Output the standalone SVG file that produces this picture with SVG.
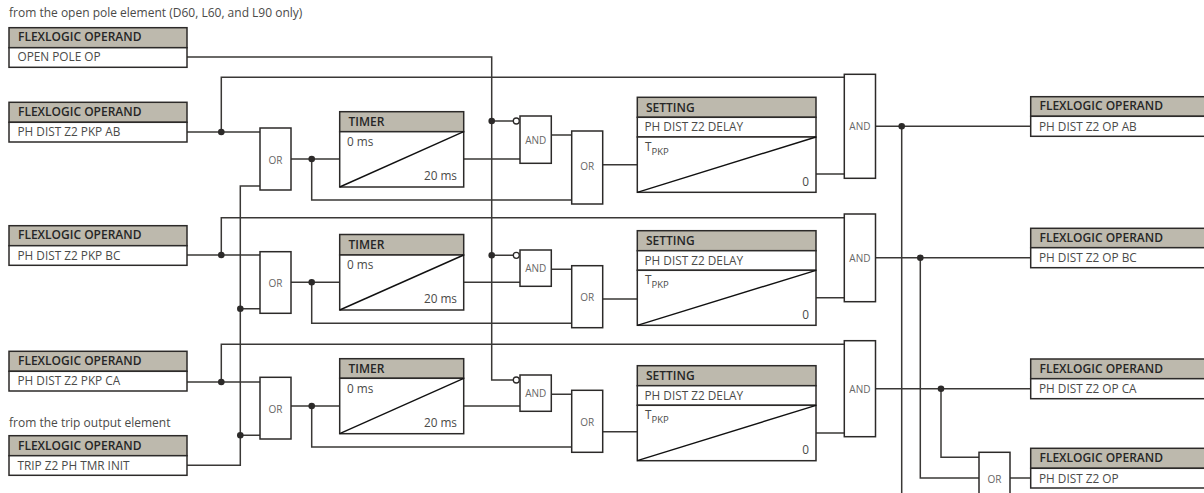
<svg xmlns="http://www.w3.org/2000/svg" width="1204" height="493" viewBox="0 0 1204 493">
<style>
text{font-family:"Open Sans","Noto Sans","Liberation Sans",sans-serif;font-size:11.8px;fill:#4a4a48}
.h{font-weight:600;font-size:12px;fill:#262626}
.t{font-size:12px}
.g{fill:#666;text-anchor:middle;font-size:10px}
.e{text-anchor:end}
.s{font-size:9.5px}
.b{fill:#fff;stroke:#2c2a29;stroke-width:1.5}
.f{fill:#bdb9ad;stroke:#2c2a29;stroke-width:1.5}
.d{fill:none;stroke:#111;stroke-width:1.4}
.c{fill:none;stroke:#3a3836;stroke-width:1.5}
.j{fill:#2c2a29}
.n{fill:#fff;stroke:#2c2a29;stroke-width:1.3}
</style>
<rect width="1204" height="493" fill="#fff"/>
<text class="t" x="9" y="17">from the open pole element (D60, L60, and L90 only)</text>
<text class="t" x="9" y="426.5">from the trip output element</text>
<g id="connectors">
<path class="c" d="M187 57H491.7V380H513"/>
<path class="c" d="M491.7 121H513M491.7 255.3H513"/>
<path class="c" d="M187 132H260M221.3 132V77.3H844.3"/>
<path class="c" d="M187 255H260M221.3 255V217.7H844.3"/>
<path class="c" d="M187 382H260M221.3 382V344.3H844.3"/>
<path class="c" d="M187 465.3H240.3V186H260M240.3 308.7H260M240.3 435.3H260"/>
<path class="c" d="M291 159H339.7M311.7 159V200H571.7"/>
<path class="c" d="M291 282.3H339.7M311.7 282.3V323.3H571.7"/>
<path class="c" d="M291 406H339.7M311.7 406V447H571.7"/>
<path class="c" d="M463.7 159H520M463.7 282.3H520M463.7 406H520"/>
<path class="c" d="M551.3 135H571.7M551.3 269.3H571.7M551.3 394.3H571.7"/>
<path class="c" d="M602.7 164.7H637.3M602.7 299H637.3M602.7 431.7H637.3"/>
<path class="c" d="M816 174H844.3M816 297.7H844.3M816 433H844.3"/>
<path class="c" d="M875.5 126.3H1030.7M875.5 257.7H1030.7M875.5 388.7H1030.7"/>
<path class="c" d="M901.7 126.3V493"/>
<path class="c" d="M920.3 257.7V478H979"/>
<path class="c" d="M941 388.7V457.3H979"/>
<path class="c" d="M1010 478H1030.7"/>
<g class="j">
<circle cx="221.3" cy="132" r="3.3"/><circle cx="221.3" cy="255" r="3.3"/><circle cx="221.3" cy="382" r="3.3"/>
<circle cx="240.3" cy="308.7" r="3.3"/><circle cx="240.3" cy="435.3" r="3.3"/>
<circle cx="311.7" cy="159" r="3.3"/><circle cx="311.7" cy="282.3" r="3.3"/><circle cx="311.7" cy="406" r="3.3"/>
<circle cx="491.7" cy="121" r="3.3"/><circle cx="491.7" cy="255.3" r="3.3"/>
<circle cx="901.7" cy="126.3" r="3.3"/><circle cx="920.3" cy="257.7" r="3.3"/><circle cx="941" cy="388.7" r="3.3"/>
</g>
</g>
<g id="op-open-pole"><rect class="f" x="9" y="27.7" width="178" height="20"/><rect class="b" x="9" y="47.7" width="178" height="19.6"/><text class="h" x="18" y="41">FLEXLOGIC OPERAND</text><text x="17.5" y="61">OPEN POLE OP</text></g>
<g id="op-pkp-ab"><rect class="f" x="9" y="102.3" width="178" height="20"/><rect class="b" x="9" y="122.3" width="178" height="19.7"/><text class="h" x="18" y="115.5">FLEXLOGIC OPERAND</text><text x="17.5" y="136">PH DIST Z2 PKP AB</text></g>
<g id="op-pkp-bc"><rect class="f" x="9" y="225.7" width="178" height="20"/><rect class="b" x="9" y="245.7" width="178" height="19.6"/><text class="h" x="18" y="239">FLEXLOGIC OPERAND</text><text x="17.5" y="259.5">PH DIST Z2 PKP BC</text></g>
<g id="op-pkp-ca"><rect class="f" x="9" y="351.3" width="178" height="20"/><rect class="b" x="9" y="371.3" width="178" height="19.7"/><text class="h" x="18" y="365">FLEXLOGIC OPERAND</text><text x="17.5" y="385">PH DIST Z2 PKP CA</text></g>
<g id="op-trip"><rect class="f" x="9" y="435.7" width="178" height="20"/><rect class="b" x="9" y="455.7" width="178" height="19.6"/><text class="h" x="18" y="449.5">FLEXLOGIC OPERAND</text><text x="17.5" y="469.5">TRIP Z2 PH TMR INIT</text></g>

<g id="or-1a"><rect class="b" x="260" y="128" width="31" height="62"/><text class="g" x="275.5" y="164">OR</text></g>
<g id="or-2a"><rect class="b" x="260" y="251.7" width="31" height="61.6"/><text class="g" x="275.5" y="287">OR</text></g>
<g id="or-3a"><rect class="b" x="260" y="377.3" width="31" height="61.7"/><text class="g" x="275.5" y="413">OR</text></g>

<g id="timer-1"><rect class="f" x="339.7" y="111.7" width="124" height="20"/><rect class="b" x="339.7" y="131.7" width="124" height="55.3"/><path class="d" d="M339.7 187L463.7 131.7"/><text class="h" x="348.5" y="126">TIMER</text><text x="347" y="146">0 ms</text><text class="e" x="457" y="180">20 ms</text></g>
<g id="timer-2"><rect class="f" x="339.7" y="234.5" width="124" height="20.5"/><rect class="b" x="339.7" y="255" width="124" height="55"/><path class="d" d="M339.7 310L463.7 255"/><text class="h" x="348.5" y="249">TIMER</text><text x="347" y="269">0 ms</text><text class="e" x="457" y="303">20 ms</text></g>
<g id="timer-3"><rect class="f" x="339.7" y="358.7" width="124" height="19.6"/><rect class="b" x="339.7" y="378.3" width="124" height="55.4"/><path class="d" d="M339.7 433.7L463.7 378.3"/><text class="h" x="348.5" y="373">TIMER</text><text x="347" y="392.5">0 ms</text><text class="e" x="457" y="427">20 ms</text></g>

<g id="and-1a"><rect class="b" x="520" y="116" width="31.3" height="47.3"/><circle class="n" cx="516.3" cy="121" r="3"/><text class="g" x="535.7" y="144">AND</text></g>
<g id="and-2a"><rect class="b" x="520" y="250" width="31.3" height="36.3"/><circle class="n" cx="516.3" cy="255.3" r="3"/><text class="g" x="535.7" y="272">AND</text></g>
<g id="and-3a"><rect class="b" x="520" y="375" width="31.3" height="36.3"/><circle class="n" cx="516.3" cy="380" r="3"/><text class="g" x="535.7" y="397">AND</text></g>

<g id="or-1b"><rect class="b" x="571.7" y="131" width="31" height="73"/><text class="g" x="587.2" y="170">OR</text></g>
<g id="or-2b"><rect class="b" x="571.7" y="265.7" width="31" height="62"/><text class="g" x="587.2" y="301">OR</text></g>
<g id="or-3b"><rect class="b" x="571.7" y="390.3" width="31" height="62"/><text class="g" x="587.2" y="426">OR</text></g>

<g id="setting-1"><rect class="f" x="637.3" y="97.3" width="178.7" height="20"/><rect class="b" x="637.3" y="117.3" width="178.7" height="19.7"/><rect class="b" x="637.3" y="137" width="178.7" height="55.3"/><path class="d" d="M637.3 192.3L816 137"/><text class="h" x="646" y="111.5">SETTING</text><text x="644.5" y="131">PH DIST Z2 DELAY</text><text x="645" y="151">T<tspan class="s" dy="3.5">PKP</tspan></text><text class="e" x="809" y="186">0</text></g>
<g id="setting-2"><rect class="f" x="637.3" y="230.7" width="178.7" height="20"/><rect class="b" x="637.3" y="250.7" width="178.7" height="19.6"/><rect class="b" x="637.3" y="270.3" width="178.7" height="55"/><path class="d" d="M637.3 325.3L816 270.3"/><text class="h" x="646" y="245">SETTING</text><text x="644.5" y="264.5">PH DIST Z2 DELAY</text><text x="645" y="284">T<tspan class="s" dy="3.5">PKP</tspan></text><text class="e" x="809" y="319">0</text></g>
<g id="setting-3"><rect class="f" x="637.3" y="365.7" width="178.7" height="20"/><rect class="b" x="637.3" y="385.7" width="178.7" height="19.6"/><rect class="b" x="637.3" y="405.3" width="178.7" height="55.4"/><path class="d" d="M637.3 460.7L816 405.3"/><text class="h" x="646" y="380">SETTING</text><text x="644.5" y="399.5">PH DIST Z2 DELAY</text><text x="645" y="419">T<tspan class="s" dy="3.5">PKP</tspan></text><text class="e" x="809" y="454">0</text></g>

<g id="and-1b"><rect class="b" x="844.3" y="74.3" width="31.2" height="104"/><text class="g" x="859.9" y="130">AND</text></g>
<g id="and-2b"><rect class="b" x="844.3" y="214" width="31.2" height="87.7"/><text class="g" x="859.9" y="262">AND</text></g>
<g id="and-3b"><rect class="b" x="844.3" y="340.7" width="31.2" height="96"/><text class="g" x="859.9" y="393">AND</text></g>

<g id="or-out"><rect class="b" x="979" y="452.3" width="31" height="50"/><text class="g" x="994.5" y="483">OR</text></g>

<g id="op-op-ab"><rect class="f" x="1030.7" y="96.7" width="190" height="19.6"/><rect class="b" x="1030.7" y="116.3" width="190" height="20"/><text class="h" x="1039.5" y="110">FLEXLOGIC OPERAND</text><text x="1039" y="130.5">PH DIST Z2 OP AB</text></g>
<g id="op-op-bc"><rect class="f" x="1030.7" y="228.3" width="190" height="19.4"/><rect class="b" x="1030.7" y="247.7" width="190" height="20"/><text class="h" x="1039.5" y="242">FLEXLOGIC OPERAND</text><text x="1039" y="262">PH DIST Z2 OP BC</text></g>
<g id="op-op-ca"><rect class="f" x="1030.7" y="359" width="190" height="19.7"/><rect class="b" x="1030.7" y="378.7" width="190" height="20"/><text class="h" x="1039.5" y="372.5">FLEXLOGIC OPERAND</text><text x="1039" y="393">PH DIST Z2 OP CA</text></g>
<g id="op-op"><rect class="f" x="1030.7" y="448.3" width="190" height="20"/><rect class="b" x="1030.7" y="468.3" width="190" height="19.7"/><text class="h" x="1039.5" y="462">FLEXLOGIC OPERAND</text><text x="1039" y="482.5">PH DIST Z2 OP</text></g>
</svg>
